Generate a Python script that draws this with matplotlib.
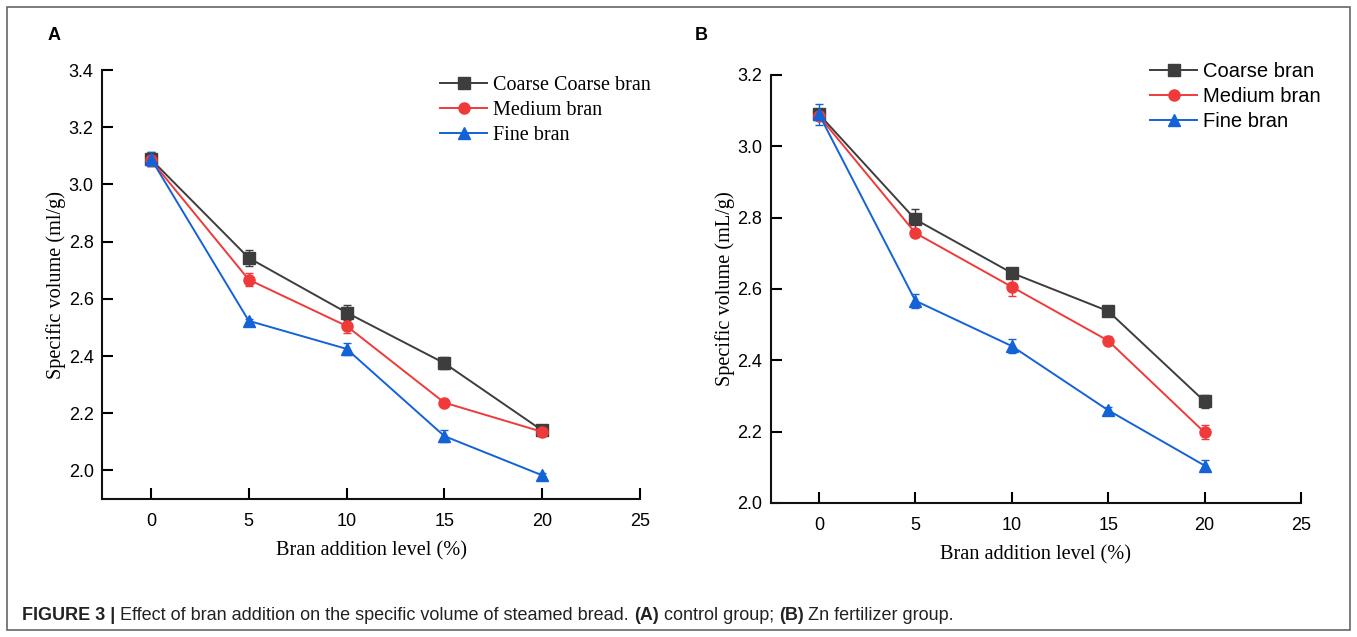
import matplotlib

matplotlib.use("Agg")
import matplotlib.pyplot as plt
from matplotlib.patches import Rectangle

# bran addition level (%)
levels = [0, 5, 10, 15, 20]
series_names_a = ["Coarse Coarse bran", "Medium bran", "Fine bran"]
series_names_b = ["Coarse bran", "Medium bran", "Fine bran"]

# panel A: control group
coarse_a = [3.088, 2.743, 2.552, 2.375, 2.140]
coarse_a_err = [0.025, 0.028, 0.025, 0.022, 0.012]
medium_a = [3.085, 2.667, 2.505, 2.237, 2.135]
medium_a_err = [0.020, 0.022, 0.025, 0.012, 0.015]
fine_a = [3.090, 2.523, 2.425, 2.120, 1.983]
fine_a_err = [0.025, 0.008, 0.020, 0.020, 0.008]

# panel B: Zn fertilizer group
coarse_b = [3.090, 2.795, 2.645, 2.538, 2.285]
coarse_b_err = [0.012, 0.028, 0.012, 0.015, 0.018]
medium_b = [3.085, 2.757, 2.606, 2.455, 2.198]
medium_b_err = [0.012, 0.012, 0.025, 0.012, 0.020]
fine_b = [3.090, 2.567, 2.440, 2.260, 2.105]
fine_b_err = [0.030, 0.020, 0.020, 0.008, 0.015]

COLORS = ["#3d3d3d", "#f03a3a", "#1462d8"]
MARKERS = ["s", "o", "^"]
SANS = "Liberation Sans"
SERIF = "Liberation Serif"
W, H = 1357, 637

fig = plt.figure(figsize=(W / 100, H / 100), dpi=100)
fig.patches.append(
    Rectangle((0.005, 0.011), 0.99, 0.978, transform=fig.transFigure,
              fill=False, edgecolor="#666666", lw=1.2)
)


def draw_panel(ax, series, errs, names, ylim, yticks, ylabel, legend_font,
               legend_xy):
    handles = []
    for j, (ys, es) in enumerate(zip(series, errs)):
        c = ax.errorbar(levels, ys, yerr=es, color=COLORS[j], marker=MARKERS[j],
                        markersize=8, lw=1.4, capsize=3, elinewidth=1,
                        capthick=1)
        handles.append(c[0])  # the plain line+marker, no error bar in the key
    ax.set_xlim(-2.5, 25)
    ax.set_ylim(*ylim)
    ax.set_xticks([0, 5, 10, 15, 20, 25])
    ax.set_yticks(yticks)
    ax.set_yticklabels([f"{t:.1f}" for t in yticks])
    for side in ("top", "right"):
        ax.spines[side].set_visible(False)
    for side in ("left", "bottom"):
        ax.spines[side].set_linewidth(1.5)
        ax.spines[side].set_color("#111111")
    ax.tick_params(axis="x", direction="in", length=8, width=1.5, pad=10)
    ax.tick_params(axis="y", direction="in", length=8, width=1.5, pad=6)
    for lab in ax.get_xticklabels() + ax.get_yticklabels():
        lab.set_fontfamily(SANS)
        lab.set_fontsize(13)
    ax.set_xlabel("Bran addition level (%)", fontfamily=SERIF, fontsize=14.6,
                  labelpad=8)
    ax.set_ylabel(ylabel, fontfamily=SERIF, fontsize=14.6, labelpad=2)
    ax.legend(handles, names, loc="upper left", frameon=False,
              handlelength=2.35, handletextpad=0.28, labelspacing=0.3,
              borderpad=0, borderaxespad=0,
              prop={"family": legend_font, "size": 14.5},
              bbox_to_anchor=(legend_xy[0] / W, 1 - legend_xy[1] / H),
              bbox_transform=fig.transFigure)


ax_a = fig.add_axes([0.0752, 0.2166, 0.3964, 0.6735])
draw_panel(ax_a, [coarse_a, medium_a, fine_a],
           [coarse_a_err, medium_a_err, fine_a_err], series_names_a,
           (1.9, 3.4), [2.0, 2.2, 2.4, 2.6, 2.8, 3.0, 3.2, 3.4],
           "Specific volume (ml/g)", SERIF, (440, 76))

ax_b = fig.add_axes([0.568, 0.2104, 0.3907, 0.6719])
draw_panel(ax_b, [coarse_b, medium_b, fine_b],
           [coarse_b_err, medium_b_err, fine_b_err], series_names_b,
           (2.0, 3.2), [2.0, 2.2, 2.4, 2.6, 2.8, 3.0, 3.2],
           "Specific volume (mL/g)", SANS, (1150, 62))

fig.text(0.0354, 0.945, "A", fontfamily=SANS, fontweight="bold", fontsize=13,
         va="center")
fig.text(0.512, 0.945, "B", fontfamily=SANS, fontweight="bold", fontsize=13,
         va="center")

# caption, pieced together so bold and normal runs sit side by side
cap_y = 1 - 615 / H
fig.canvas.draw()
r = fig.canvas.get_renderer()
x = 22 / W
parts = [("FIGURE 3 | ", "bold"),
         ("Effect of bran addition on the specific volume of steamed bread. ", "normal"),
         ("(A)", "bold"), (" control group; ", "normal"), ("(B)", "bold"),
         (" Zn fertilizer group.", "normal")]
for txt, w in parts:
    t = fig.text(x, cap_y, txt, fontfamily=SANS, fontweight=w, fontsize=13,
                 va="center", color="#222222")
    x = t.get_window_extent(r).x1 / fig.bbox.width

fig.savefig("out.png", dpi=100)
